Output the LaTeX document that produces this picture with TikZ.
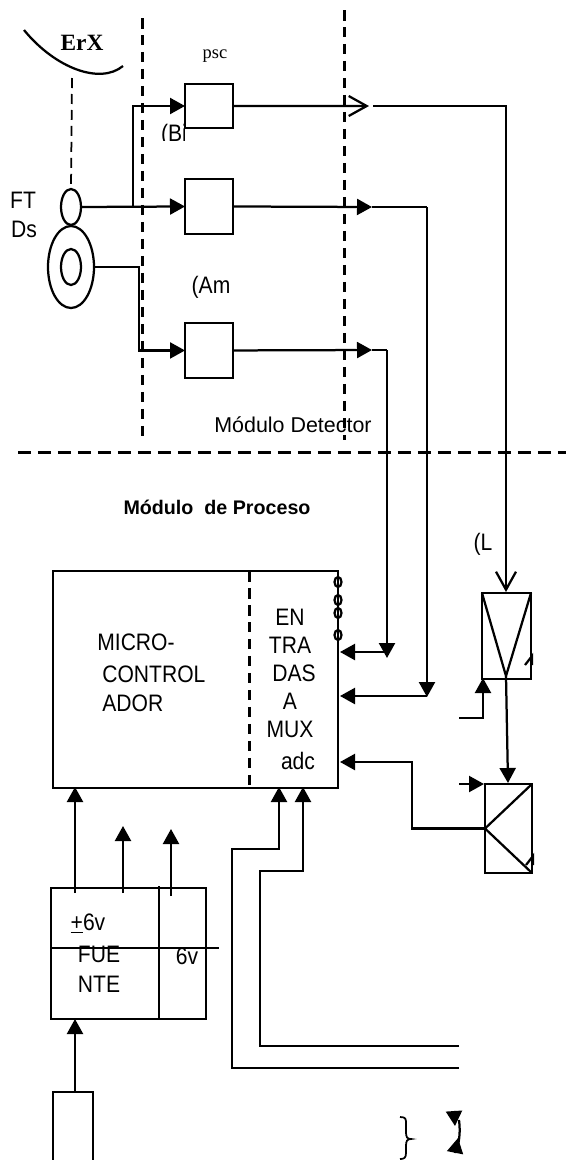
\documentclass[tikz,border=0pt]{standalone}
\usepackage{fontspec}
\setmainfont{Liberation Sans}
\newfontfamily\serifnum{Liberation Serif}
\usetikzlibrary{positioning,shapes,arrows.meta}
\tikzstyle{BoxNode}=[rectangle, draw=black, line width=0.45mm, inner sep=0pt, outer sep=0pt, anchor=north west]
\tikzstyle{LabelNode}=[anchor=base, inner sep=0pt, font=\fontsize{12}{14}\selectfont]
\tikzstyle{TallNode}=[LabelNode, yscale=1.13, transform shape]
\tikzstyle{Wire}=[line width=0.45mm]
\tikzstyle{WireTip}=[Wire, -{Triangle[length=0.3cm, width=0.32cm]}]
\tikzstyle{OpenTip}=[Wire, -{Straight Barb[length=0.36cm, width=0.4cm]}]
\tikzstyle{Border}=[line width=0.6mm, dash pattern=on 0.21cm off 0.13cm]
\tikzstyle{Ring}=[ellipse, draw=black, line width=0.45mm, inner sep=0pt, outer sep=0pt]
\tikzstyle{PortNode}=[Ring, line width=0.45mm, minimum width=0.14cm, minimum height=0.2cm]

\begin{document}
\begin{tikzpicture}[x=0.02cm, y=-0.02cm]
    \useasboundingbox (0,0) rectangle (566,1160);

    \node (BoxPsc) [BoxNode, minimum width=0.96cm, minimum height=0.88cm] at (185,84) {};
    \node (BoxMid) [BoxNode, minimum width=0.96cm, minimum height=1.1cm, below=1.02cm of BoxPsc.south west, anchor=north west] {};
    \node (BoxAmp) [BoxNode, minimum width=0.96cm, minimum height=1.1cm, below=1.78cm of BoxMid.south west, anchor=north west] {};
    \node (RingSmall) [Ring, minimum width=0.4cm, minimum height=0.72cm] at (71,207) {};
    \node (RingBig) [Ring, minimum width=0.92cm, minimum height=1.64cm] at (71,267) {};
    \node (RingCore) [Ring, minimum width=0.4cm, minimum height=0.72cm] at (71,267) {};
    \node (MainBox) [BoxNode, line width=0.55mm, minimum width=5.7cm, minimum height=4.34cm] at (53,571) {};
    \node (DetBox) [BoxNode, minimum width=0.98cm, minimum height=1.72cm] at (482,593) {};
    \node (AdcBox) [BoxNode, minimum width=0.94cm, minimum height=1.78cm] at (485,784) {};
    \node (PowerBox) [BoxNode, minimum width=3.1cm, minimum height=2.62cm] at (51,888) {};
    \node (BattBox) [BoxNode, minimum width=0.8cm, minimum height=1.6cm] at (53,1092) {};

    \node (TagErX) [LabelNode, font=\serifnum\bfseries\fontsize{13.3}{15}\selectfont] at (82,50) {ErX};
    \node (TagPsc) [LabelNode, font=\serifnum\fontsize{10.5}{12}\selectfont] at (215,58) {psc};
    \node (TagFT) [TallNode] at (23,208) {FT};
    \node (TagDs) [TallNode] at (24,237) {Ds};
    \node (TagAm) [TallNode] at (211,293) {(Am};
    \node (TagL) [TallNode] at (483,550) {(L};
    \node (TagDetector) [LabelNode, font=\fontsize{12.2}{14}\selectfont] at (293,432) {Módulo Detector};
    \node (TagProceso) [LabelNode, font=\bfseries\fontsize{11.2}{13}\selectfont] at (217,514) {Módulo\ \ de Proceso};
    \node (TagMicro) [TallNode, anchor=base west] at (97,650) {MICRO-};
    \node (TagControl) [TallNode, anchor=base west] at (102,682) {CONTROL};
    \node (TagAdor) [TallNode, anchor=base west] at (102,711) {ADOR};
    \node (TagEn) [TallNode] at (290,625) {EN};
    \node (TagTra) [TallNode] at (290,653) {TRA};
    \node (TagDas) [TallNode] at (294,681) {DAS};
    \node (TagA) [TallNode] at (290,709) {A};
    \node (TagMux) [TallNode] at (290,737) {MUX};
    \node (TagAdc) [TallNode] at (298,769) {adc};
    \node (TagPlus) [TallNode] at (88,930) {\underline{+}6v};
    \node (TagFue) [TallNode] at (99,962) {FUE};
    \node (TagNte) [TallNode] at (99,992) {NTE};
    \node (TagSix) [TallNode] at (187,964) {6v};
    % text cut off in the original
    \begin{scope}
      \clip (158,120) rectangle (184,140);
      \node (TagBi) [TallNode] at (174,141) {(Bi};
    \end{scope}

    \node (PortOne) [PortNode] at (338,582) {};
    \node (PortTwo) [PortNode] at (338,600) {};
    \node (PortThree) [PortNode] at (338,613) {};
    \node (PortFour) [PortNode] at (338,635) {};

    \coordinate (AuxNode01) at (133,207);
    \coordinate (AuxNode02) at (373,106);
    \coordinate (AuxNode03) at (506,592);
    \coordinate (AuxNode04) at (387,350);
    \coordinate (AuxNode05) at (387,652);
    \coordinate (AuxNode06) at (427,207);
    \coordinate (AuxNode07) at (427,697);

    \draw [Border] (142,18) -- (142,440);
    \draw [Border] (344,10) -- (344,440);
    \draw [Border, dash pattern=on 0.26cm off 0.14cm] (18,452) -- (566,452);
    \draw [Border] (249,571) -- (249,788);
    \draw [line width=0.35mm, dash pattern=on 0.2cm off 0.12cm] (72,78) -- (RingSmall.north);
    \draw [Wire] (24,30) .. controls (55,68) and (100,85) .. (123,66);

    \draw [WireTip] (RingSmall.east) -- (BoxMid.west);
    \draw [WireTip] (AuxNode01) |- (BoxPsc.west);
    \draw [WireTip] (RingBig.east) -- (139,267) |- (BoxAmp.west);
    \draw [OpenTip] (BoxPsc.east) -- (369,106);
    \draw [OpenTip] (AuxNode02) -| (AuxNode03);
    \draw [WireTip] (BoxMid.east) -- (372,207);
    \draw [Wire] (372,207) -- (AuxNode06);
    \draw [WireTip] (AuxNode06) -- (AuxNode07);
    \draw [WireTip] (BoxAmp.east) -- (372,350);
    \draw [Wire] (372,350) -- (AuxNode04);
    \draw [WireTip] (AuxNode04) -- (387,658);
    \draw [WireTip] (AuxNode05) -- (340,652);
    \draw [WireTip] (427,696) -- (340,696);
    \draw [WireTip] (AdcBox.west) -| (412,762) -- (340,762);

    \draw [Wire] (DetBox.north west) -- (506,676) -- (DetBox.north east);
    \draw [Wire] (525,665) -- (532,656) -- (532,665);
    \draw [WireTip] (506,676) -- (508,783);
    \draw [WireTip] (459,718) -| (483,678);
    \draw [WireTip] (459,784) -- (484,784);
    \draw [Wire] (AdcBox.north east) -- (AdcBox.west) -- (AdcBox.south east);
    \draw [Wire] (526,865) -- (533,856) -- (533,865);

    \draw [WireTip] (75,893) -- (75,787);
    \draw [WireTip] (123,893) -- (123,826);
    \draw [WireTip] (171,896) -- (171,829);
    \draw [WireTip] (BattBox.north -| 75,0) -- (75,1019);
    \draw [Wire] (159,886) -- (159,1019);
    \draw [Wire] (51,948) -- (219,948);

    \draw [WireTip] (459,1068) -- (232,1068) -- (232,849) -- (279,849) -- (279,787);
    \draw [WireTip] (459,1046) -- (260,1046) -- (260,871) -- (303,871) -- (303,787);

    \draw [line width=0.35mm] (400,1117) .. controls (406,1117) and (406,1119) .. (406,1124) -- (406,1132) .. controls (406,1137) and (407,1139) .. (411,1139) .. controls (407,1139) and (406,1141) .. (406,1146) -- (406,1153) .. controls (406,1158) and (404,1159) .. (400,1159);
    \draw [Wire] (459,1120) .. controls (460,1128) and (460,1136) .. (458,1145);
    \draw [WireTip] (454,1111) -- (455,1126);
    \draw [WireTip] (455,1153) -- (458,1138);

\end{tikzpicture}
\end{document}
